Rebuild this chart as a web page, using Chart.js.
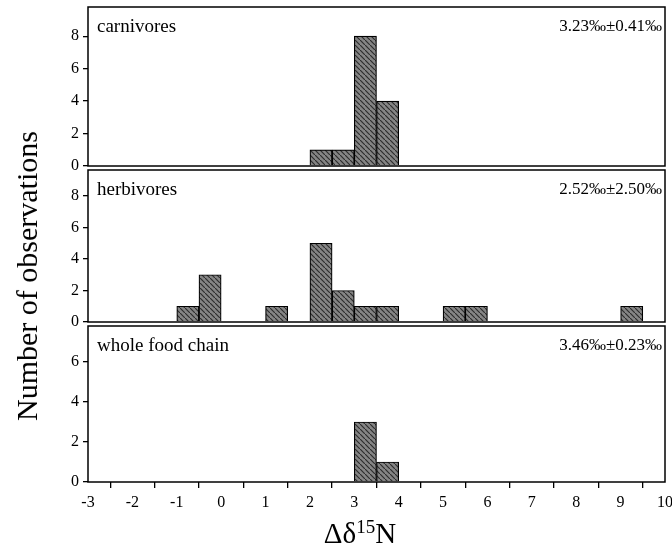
<!DOCTYPE html>
<html>
<head>
<meta charset="utf-8">
<script src="https://cdn.jsdelivr.net/npm/chart.js@4"></script>
<style>
  body { margin: 0; background: #fff; width: 672px; height: 550px; position: relative; overflow: hidden; font-family: "Liberation Serif", serif; }
  .panel { position: absolute; left: 0; width: 672px; }
  #ytitle { position: absolute; left: 27px; top: 276px; transform: translate(-50%, -50%) rotate(-90deg); font-size: 30px; white-space: nowrap; color: #000; }
  #xtitle { position: absolute; left: 360px; top: 533px; transform: translate(-50%, -50%); font-size: 29px; white-space: nowrap; color: #000; }
  #xtitle sup { font-size: 19px; }
</style>
</head>
<body>
<div class="panel" style="top:0;height:180px"><canvas id="c1"></canvas></div>
<div class="panel" style="top:168px;height:166px"><canvas id="c2"></canvas></div>
<div class="panel" style="top:324px;height:226px"><canvas id="c3"></canvas></div>
<div id="ytitle">Number of observations</div>
<div id="xtitle">Δδ<sup>15</sup>N</div>
<script>
// bin centres (bins 0.5 wide, from -3 to 10)
const binCenters = [-2.75, -2.25, -1.75, -1.25, -0.75, -0.25, 0.25, 0.75, 1.25, 1.75,
  2.25, 2.75, 3.25, 3.75, 4.25, 4.75, 5.25, 5.75, 6.25, 6.75, 7.25, 7.75, 8.25, 8.75, 9.25, 9.75];

const carnivores = [0, 0, 0, 0, 0, 0, 0, 0, 0, 0, 1, 1, 8, 4, 0, 0, 0, 0, 0, 0, 0, 0, 0, 0, 0, 0];
const herbivores = [0, 0, 0, 0, 1, 3, 0, 0, 1, 0, 5, 2, 1, 1, 0, 0, 1, 1, 0, 0, 0, 0, 0, 0, 1, 0];
const wholeChain = [0, 0, 0, 0, 0, 0, 0, 0, 0, 0, 0, 0, 3, 1, 0, 0, 0, 0, 0, 0, 0, 0, 0, 0, 0, 0];

const panelNames = ["carnivores", "herbivores", "whole food chain"];
const panelStats = ["3.23‰±0.41‰", "2.52‰±2.50‰", "3.46‰±0.23‰"];
const yMaxes = [9.8, 9.65, 7.8];

const FONT = "Liberation Serif";

// motif gris hachuré des barres
function makePattern() {
  const c = document.createElement("canvas");
  c.width = 5;
  c.height = 5;
  const g = c.getContext("2d");
  g.fillStyle = "#858585";
  g.fillRect(0, 0, 5, 5);
  g.strokeStyle = "#2e2e2e";
  g.lineWidth = 1.2;
  g.beginPath();
  g.moveTo(0, 0);
  g.lineTo(5, 5);
  g.stroke();
  return g.createPattern(c, "repeat");
}
const barFill = makePattern();

// cadre + étiquettes du panneau
const framePlugin = {
  id: "frame",
  afterDatasetsDraw(chart, args, opts) {
    const { ctx, chartArea: a } = chart;
    ctx.save();
    ctx.strokeStyle = "#000";
    ctx.lineWidth = 1.5;
    ctx.strokeRect(a.left, a.top, a.right - a.left, a.bottom - a.top);
    ctx.fillStyle = "#000";
    ctx.font = "19px " + FONT;
    ctx.textBaseline = "middle";
    ctx.textAlign = "left";
    ctx.fillText(opts.name, a.left + 9, a.top + 20);
    ctx.font = "17px " + FONT;
    ctx.textAlign = "right";
    ctx.fillText(opts.stat, a.right - 3, a.top + 20);
    ctx.restore();
  },
};

function makePanel(id, values, i, pad, showX) {
  return new Chart(document.getElementById(id), {
    type: "bar",
    data: {
      labels: binCenters,
      datasets: [
        {
          data: values.map((v) => (v === 0 ? null : v)),
          backgroundColor: barFill,
          borderColor: "#000",
          borderWidth: 1.2,
          borderSkipped: "bottom",
          barPercentage: 1,
          categoryPercentage: 1,
        },
      ],
    },
    options: {
      responsive: true,
      maintainAspectRatio: false,
      animation: false,
      layout: { padding: { top: pad.top, bottom: pad.bottom, left: 0, right: 7 } },
      plugins: {
        legend: { display: false },
        tooltip: { enabled: false },
        frame: { name: panelNames[i], stat: panelStats[i] },
      },
      scales: {
        x: {
          type: "linear",
          min: -3,
          max: 10,
          offset: false,
          border: { display: false },
          grid: { drawOnChartArea: false, drawTicks: showX, tickLength: 6, color: "#000", lineWidth: 1.3 },
          ticks: {
            display: showX,
            stepSize: 1,
            color: "#000",
            padding: 5,
            maxRotation: 0,
            font: { family: FONT, size: 16 },
          },
          afterFit(scale) {
            scale.height = showX ? 68 : 0;
            scale.paddingLeft = 0;
            scale.paddingRight = 0;
          },
        },
        y: {
          min: 0,
          max: yMaxes[i],
          border: { display: false },
          grid: { drawOnChartArea: false, drawTicks: true, tickLength: 5, color: "#000", lineWidth: 1.3 },
          ticks: {
            stepSize: 2,
            includeBounds: false,
            color: "#000",
            padding: 4,
            font: { family: FONT, size: 16 },
          },
          afterFit(scale) {
            scale.width = 88;
            scale.paddingTop = 0;
            scale.paddingBottom = 0;
          },
        },
      },
    },
    plugins: [framePlugin],
  });
}

makePanel("c1", carnivores, 0, { top: 7, bottom: 14 }, false);
makePanel("c2", herbivores, 1, { top: 2, bottom: 12 }, false);
makePanel("c3", wholeChain, 2, { top: 2, bottom: 0 }, true);
</script>
</body>
</html>
